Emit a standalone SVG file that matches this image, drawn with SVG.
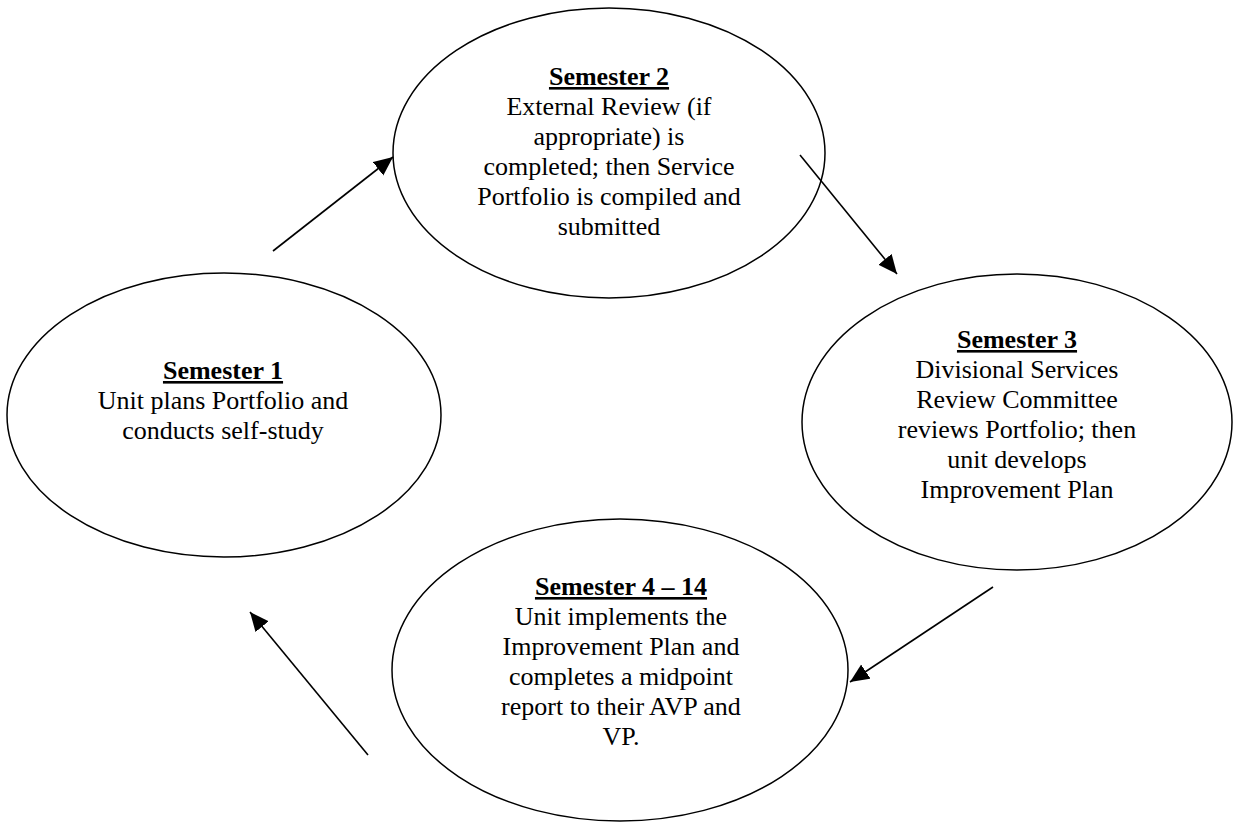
<svg xmlns="http://www.w3.org/2000/svg" width="1233" height="824" viewBox="0 0 1233 824">
<style>
.node ellipse{fill:#fff;stroke:#000;stroke-width:1.5}
.node text{font-family:"Liberation Serif","Times New Roman",serif;font-size:26px;fill:#000;text-anchor:middle}
.node .title{font-weight:bold;text-decoration:underline}
.conn line{stroke:#000;stroke-width:1.6;marker-end:url(#arrow)}
</style>
<defs>
<marker id="arrow" markerUnits="userSpaceOnUse" markerWidth="20" markerHeight="18" refX="19" refY="8.5" orient="auto">
<path d="M0,0 L19,8.5 L0,17 z" fill="#000"/>
</marker>
</defs>
<rect width="1233" height="824" fill="#fff"/>
<g id="sem1" class="node">
<ellipse cx="224" cy="415" rx="217" ry="142"/>
<text x="223" y="379" class="title">Semester 1</text>
<text x="223" y="409">Unit plans Portfolio and</text>
<text x="223" y="439">conducts self-study</text>
</g>
<g id="sem2" class="node">
<ellipse cx="609" cy="153" rx="216" ry="145"/>
<text x="609" y="85" class="title">Semester 2</text>
<text x="609" y="115">External Review (if</text>
<text x="609" y="145">appropriate) is</text>
<text x="609" y="175">completed; then Service</text>
<text x="609" y="205">Portfolio is compiled and</text>
<text x="609" y="235">submitted</text>
</g>
<g id="sem3" class="node">
<ellipse cx="1017" cy="422" rx="215" ry="148"/>
<text x="1017" y="348" class="title">Semester 3</text>
<text x="1017" y="378">Divisional Services</text>
<text x="1017" y="408">Review Committee</text>
<text x="1017" y="438">reviews Portfolio; then</text>
<text x="1017" y="468">unit develops</text>
<text x="1017" y="498">Improvement Plan</text>
</g>
<g id="sem4" class="node">
<ellipse cx="620" cy="670" rx="228" ry="151"/>
<text x="621" y="595" class="title">Semester 4 – 14</text>
<text x="621" y="625">Unit implements the</text>
<text x="621" y="655">Improvement Plan and</text>
<text x="621" y="685">completes a midpoint</text>
<text x="621" y="715">report to their AVP and</text>
<text x="621" y="745">VP.</text>
</g>
<g id="connectors" class="conn">
<line x1="273" y1="251" x2="393" y2="157"/>
<line x1="800" y1="155" x2="897" y2="274"/>
<line x1="993" y1="587" x2="850" y2="682"/>
<line x1="368" y1="755" x2="250" y2="612"/>
</g>
</svg>
